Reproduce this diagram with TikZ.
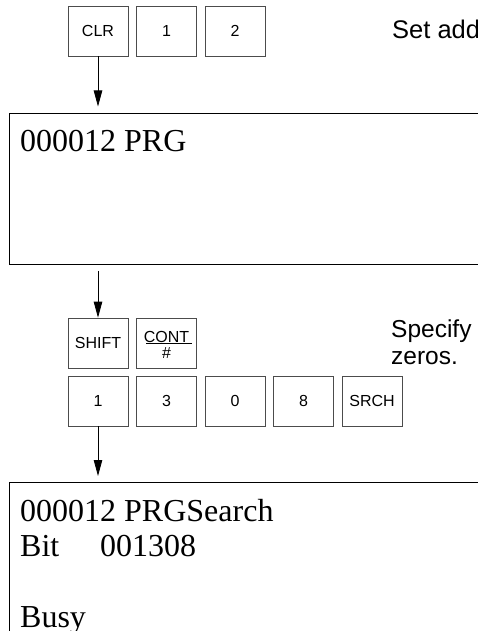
\documentclass[tikz,border=0pt]{standalone}
\usepackage{fontspec}
\setmainfont{Liberation Serif}
\newfontfamily\keyfont{Liberation Sans}
\usetikzlibrary{arrows.meta}
\begin{document}
\begin{tikzpicture}[x=1pt,y=-1pt,
  key/.style={draw=black!70, line width=0.7pt, minimum width=60pt, minimum height=50pt, inner sep=0pt, font=\keyfont\fontsize{16}{18}\selectfont},
  klabel/.style={anchor=base, inner sep=0pt, font=\keyfont\fontsize{16}{18}\selectfont},
  disp/.style={draw, line width=0.8pt, anchor=north west, minimum width=520pt, inner sep=0pt},
  dtext/.style={anchor=base west, inner sep=0pt, font=\fontsize{32}{35}\selectfont},
  note/.style={anchor=base west, inner sep=0pt, font=\keyfont\fontsize{24.5}{28}\selectfont},
  arr/.style={-{Triangle[length=16pt,width=8.5pt]}, line width=0.8pt}]
\useasboundingbox (0,0) rectangle (478,631);
% first key row
\node[key] (clr) at (98,31) {CLR};
\node[key] (k1a) at (166.5,31) {1};
\node[key] (k2a) at (235,31) {2};
\node[note, font=\keyfont\fontsize{25.5}{28}\selectfont] (n1) at (392,39) {Set add};
% first display
\node[disp, minimum height=151pt] (d1) at (9,113) {};
\node[dtext] (d1l1) at (20,151.5) {000012 PRG};
% second key rows
\node[key] (shift) at (98,343) {SHIFT};
\node[key] (cont) at (166.5,343) {};
\node[klabel] (contl) at (166.5,342) {CONT};
\node[klabel] (hashl) at (166.5,358.5) {\#};
\draw[line width=0.7pt] (146,343.8) -- (192,343.8);
\node[note] (n2) at (391,337) {Specify};
\node[note] (n3) at (391,364) {zeros.};
\node[key] (k1b) at (98,401) {1};
\node[key] (k3b) at (166.5,401) {3};
\node[key] (k0b) at (235,401) {0};
\node[key] (k8b) at (303.5,401) {8};
\node[key] (srch) at (372,401) {SRCH};
% second display
\node[disp, minimum height=200pt] (d2) at (9,482) {};
\node[dtext] (d2l1) at (20,521) {000012 PRGSearch};
\node[dtext] (d2l2) at (20,556) {Bit};
\node[dtext] (d2l2b) at (100,556) {001308};
\node[dtext] (d2l4) at (20,627) {Busy};
% arrows
\draw[arr, shorten >=6.5pt] (clr.south) -- (clr.south |- d1.north);
\draw[arr, shorten <=6pt] (clr.south |- d1.south) -- (shift.north);
\draw[arr, shorten >=6pt] (k1b.south) -- (k1b.south |- d2.north);
\end{tikzpicture}
\end{document}
